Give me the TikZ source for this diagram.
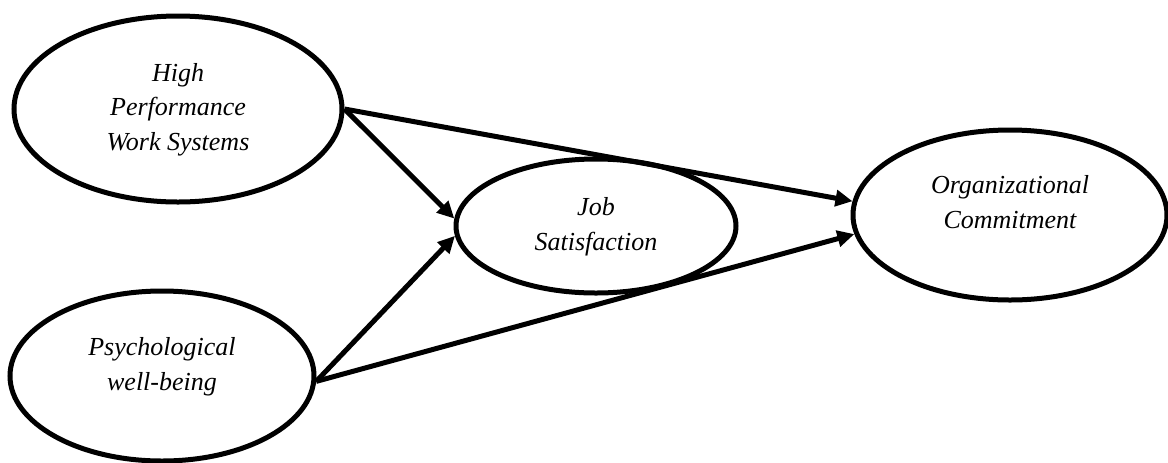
\documentclass[tikz,border=0pt]{standalone}
\usepackage{fontspec}
\setmainfont{Liberation Serif}
\usetikzlibrary{shapes.geometric,arrows.meta}

\begin{document}
\begin{tikzpicture}[x=0.5pt, y=-0.5pt,
		construct/.style={draw=black, ellipse, line width=2.5pt, inner sep=0pt,
			font=\fontsize{13}{17.2}\selectfont\itshape},
		link/.style={line width=2.5pt, -{Triangle[length=8.5pt, width=8pt]}}]
	\useasboundingbox (0, 0) rectangle (1168, 462);
	% constructs
	\node [construct, minimum width=164pt, minimum height=93pt] (hpws) at (178, 109)
		{\begin{tabular}{@{}c@{}}High\\Performance\\Work Systems\end{tabular}};
	\node [construct, minimum width=152pt, minimum height=85pt] (pwb) at (162, 376)
		{\begin{tabular}{@{}c@{}}Psychological\\well-being\\[10pt]\end{tabular}};
	\node [construct, minimum width=140pt, minimum height=67pt] (js) at (596, 226)
		{\begin{tabular}{@{}c@{}}Job\\Satisfaction\end{tabular}};
	\node [construct, minimum width=157pt, minimum height=85pt] (oc) at (1010, 215)
		{\begin{tabular}{@{}c@{}}Organizational\\Commitment\\[11pt]\end{tabular}};
	% paths
	\draw [link] (hpws.east) -- (js.177);
	\draw [link] (hpws.east) -- (oc.175);
	\draw [link] (pwb.358) -- (js.184);
	\draw [link] (pwb.358) -- (oc.187);
\end{tikzpicture}
\end{document}
